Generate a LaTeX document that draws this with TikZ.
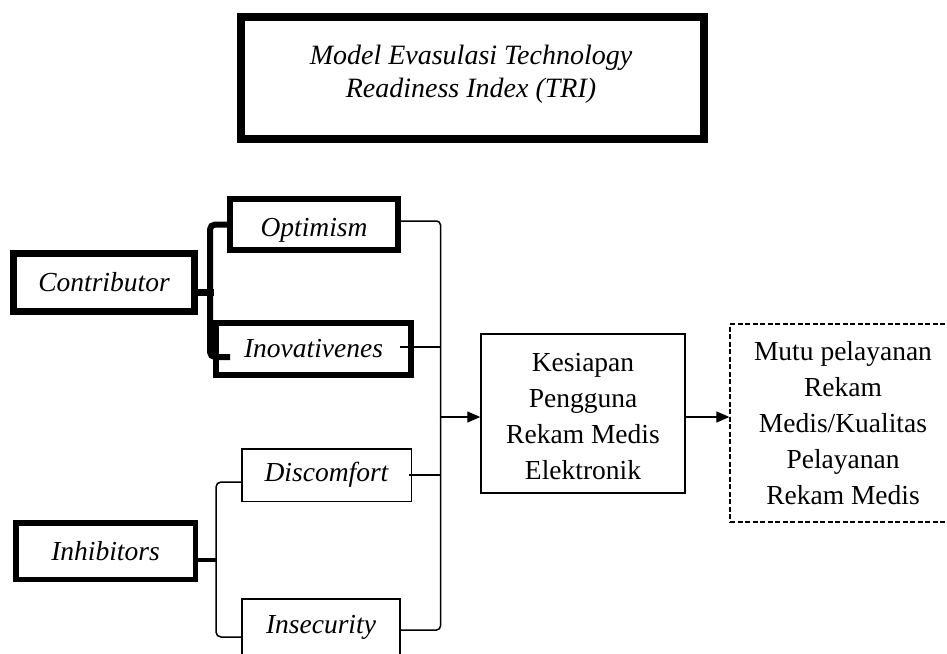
\documentclass[tikz,border=0pt]{standalone}
\usepackage{fontspec}
\setmainfont{Liberation Serif}
\usetikzlibrary{arrows.meta}
\newcommand{\lowr}[2]{\raisebox{-#1}[\height][\depth]{#2}}
\begin{document}
\begin{tikzpicture}[x=1pt,y=-1pt,
  box/.style={draw, rectangle, inner sep=0pt, align=center, font=\fontsize{27.5}{36}\selectfont},
  ibox/.style={box, font=\fontsize{27.5}{36}\selectfont\itshape},
  conn/.style={line width=1.5pt, rounded corners=4pt},
  thk/.style={line width=6pt, rounded corners=5pt},
  arr/.style={line width=1.2pt, -{Triangle[length=13pt,width=11pt]}},
]
\useasboundingbox (0,0) rectangle (947,653);

% title
\node[draw, line width=8pt, minimum width=463pt, minimum height=122pt, inner sep=0pt] (titlebox) at (472.5,78) {};
\node[align=center, inner sep=0pt, font=\fontsize{28}{33}\selectfont\itshape] (titletext) at (471,74)
  {Model Evasulasi Technology\\Readiness Index (TRI)};

% left boxes
\node[ibox, line width=7pt, minimum width=181pt, minimum height=58pt] (contrib) at (104,282.5) {Contributor};
\node[ibox, line width=6pt, minimum width=168pt, minimum height=51pt] (opt) at (314,224.5) {\lowr{6pt}{Optimism}};
\node[ibox, line width=6pt, minimum width=195pt, minimum height=52pt] (inov) at (313.5,349) {Inovativenes};
\node[ibox, line width=5.5pt, minimum width=179.5pt, minimum height=56.5pt] (inhib) at (105.5,551) {Inhibitors};
\node[ibox, line width=1.5pt, minimum width=169.5pt, minimum height=52.5pt] (disc) at (326.5,475) {Discomfort};
\node[ibox, line width=1.5pt, minimum width=158pt, minimum height=56pt] (insec) at (321,627) {Insecurity};

% right boxes
\node[box, line width=1.5pt, minimum width=204pt, minimum height=159pt] (kes) at (583,413.5)
  {\lowr{3pt}{Kesiapan}\\\lowr{3pt}{Pengguna}\\\lowr{3pt}{Rekam Medis}\\\lowr{3pt}{Elektronik}};
\node[box, line width=1.3pt, dash pattern=on 5pt off 2.5pt, minimum width=226pt, minimum height=198pt] (mutu) at (843,423)
  {Mutu pelayanan\\Rekam\\Medis/Kualitas\\Pelayanan\\Rekam Medis};

% contributor bracket
\coordinate (cbot) at (230,357);
\coordinate (cv) at (210,357);
\draw[thk] (opt.west) -| (cv) -- (cbot);
\draw[line width=6.5pt] ([yshift=-10pt]contrib.east) -- ++(16,0);

% inhibitors bracket
\coordinate (ib) at (216,560);
\draw[conn, rounded corners=5pt] ([yshift=-7pt]disc.west) -| (ib) |- ([yshift=-10pt]insec.west);
\draw[line width=3.5pt] ([yshift=-9pt]inhib.east) -- (ib);

% right collector bracket
\coordinate (rb) at (440.5,417);
\coordinate (inovR) at ([xshift=-14pt,yshift=2pt]inov.east);
\draw[conn] ([yshift=3.5pt]opt.east) -| (rb);
\draw[conn] ([yshift=-3pt]insec.east) -| (rb);
\draw[conn] (inovR) -- (rb |- inovR);
\draw[conn] ([xshift=-3pt]disc.east) -- (rb |- disc.east);

% arrows
\draw[arr] (rb) -- (rb -| kes.west);
\draw[arr] (kes.east |- rb) -- (mutu.west |- rb);
\end{tikzpicture}
\end{document}
